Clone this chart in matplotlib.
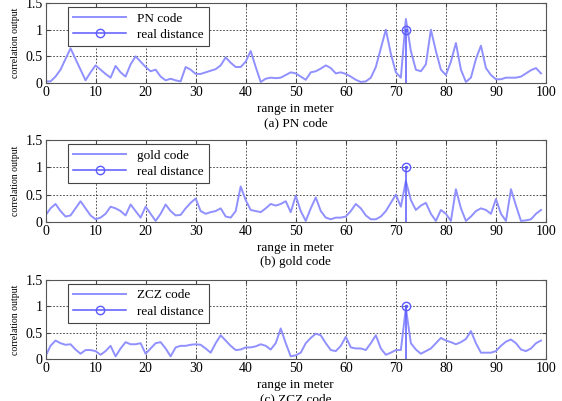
import matplotlib
matplotlib.use('Agg')
import matplotlib.pyplot as plt
import numpy as np

plt.rcParams['font.family'] = ['Liberation Serif', 'DejaVu Serif']

range_m = np.arange(100)
real_distance = 72

pn_code = [0.03, 0.03, 0.12, 0.25, 0.45, 0.65, 0.45, 0.25, 0.05, 0.20,
           0.33, 0.25, 0.17, 0.10, 0.32, 0.20, 0.12, 0.35, 0.50, 0.40,
           0.30, 0.22, 0.25, 0.12, 0.05, 0.08, 0.05, 0.03, 0.30, 0.25,
           0.17, 0.17, 0.20, 0.23, 0.26, 0.33, 0.48, 0.38, 0.30, 0.30,
           0.40, 0.60, 0.30, 0.02, 0.08, 0.10, 0.09, 0.10, 0.15, 0.20,
           0.18, 0.12, 0.06, 0.20, 0.22, 0.27, 0.33, 0.28, 0.18, 0.20,
           0.17, 0.12, 0.06, 0.02, 0.03, 0.10, 0.30, 0.65, 1.00, 0.55,
           0.20, 0.10, 1.20, 0.60, 0.25, 0.22, 0.35, 1.00, 0.60, 0.25,
           0.15, 0.40, 0.75, 0.25, 0.02, 0.10, 0.45, 0.70, 0.28, 0.15,
           0.07, 0.07, 0.10, 0.10, 0.10, 0.12, 0.18, 0.24, 0.28, 0.18]

gold_code = [0.12, 0.25, 0.33, 0.20, 0.10, 0.12, 0.25, 0.38, 0.25, 0.12,
             0.05, 0.08, 0.15, 0.28, 0.25, 0.20, 0.12, 0.32, 0.20, 0.08,
             0.28, 0.15, 0.02, 0.15, 0.32, 0.20, 0.12, 0.13, 0.25, 0.35,
             0.43, 0.20, 0.15, 0.18, 0.20, 0.25, 0.10, 0.08, 0.20, 0.65,
             0.40, 0.22, 0.20, 0.18, 0.25, 0.33, 0.30, 0.33, 0.38, 0.18,
             0.48, 0.20, 0.02, 0.25, 0.45, 0.20, 0.08, 0.05, 0.08, 0.08,
             0.10, 0.20, 0.33, 0.25, 0.12, 0.05, 0.05, 0.10, 0.20, 0.35,
             0.50, 0.28, 0.75, 0.40, 0.22, 0.30, 0.35, 0.15, 0.02, 0.22,
             0.15, 0.02, 0.60, 0.25, 0.02, 0.10, 0.20, 0.25, 0.22, 0.15,
             0.42, 0.15, 0.02, 0.60, 0.30, 0.02, 0.03, 0.05, 0.15, 0.22]

zcz_code = [0.05, 0.25, 0.35, 0.30, 0.27, 0.28, 0.18, 0.10, 0.17, 0.17,
            0.15, 0.08, 0.15, 0.25, 0.05, 0.20, 0.32, 0.28, 0.28, 0.30,
            0.10, 0.20, 0.30, 0.32, 0.20, 0.05, 0.22, 0.25, 0.25, 0.27,
            0.28, 0.27, 0.20, 0.12, 0.30, 0.45, 0.35, 0.25, 0.17, 0.18,
            0.22, 0.22, 0.24, 0.28, 0.25, 0.18, 0.30, 0.58, 0.30, 0.05,
            0.07, 0.12, 0.30, 0.40, 0.48, 0.45, 0.30, 0.17, 0.15, 0.25,
            0.42, 0.22, 0.20, 0.20, 0.17, 0.30, 0.45, 0.20, 0.08, 0.12,
            0.17, 0.17, 0.97, 0.30, 0.18, 0.10, 0.15, 0.20, 0.30, 0.40,
            0.35, 0.32, 0.28, 0.32, 0.38, 0.53, 0.30, 0.12, 0.12, 0.12,
            0.15, 0.25, 0.33, 0.37, 0.30, 0.18, 0.15, 0.20, 0.30, 0.35]

series = [pn_code, gold_code, zcz_code]
names = ['PN code', 'gold code', 'ZCZ code']
captions = ['(a) PN code', '(b) gold code', '(c) ZCZ code']

rows = [(3, 83), (140, 222), (280, 359)]
W, H = 562, 401
left_px, right_px = 45.5, 546

fig = plt.figure(figsize=(W / 100, H / 100), dpi=100, facecolor='white')

for vals, name, cap, (top, bot) in zip(series, names, captions, rows):
    ax = fig.add_axes([left_px / W, 1 - bot / H, (right_px - left_px) / W, (bot - top) / H])
    ax.plot(range_m, vals, color='#9090ff', lw=1.4, label=name)
    ax.plot([real_distance, real_distance], [0, 1], color='#5a5aff', lw=1.1,
            marker='o', markevery=[1], ms=6, mfc='none', mec='#5a5aff',
            label='real distance')
    ax.plot([real_distance], [1], marker='.', ms=3, color='#5a5aff')

    ax.set_xlim(0, 100)
    ax.set_ylim(0, 1.5)
    ax.set_xticks(np.arange(0, 101, 10))
    ax.set_yticks([0, 0.5, 1, 1.5])
    ax.set_yticklabels(['0', '0.5', '1', '1.5'])
    ax.tick_params(direction='in', length=3, labelsize=10, color='#444',
                   top=True, right=True, pad=2)
    ax.grid(True, linestyle=(0, (2, 2)), color='#333333', lw=0.6)
    for s in ax.spines.values():
        s.set_color('#555555')
        s.set_linewidth(0.8)
    ax.set_ylabel('correlation output', fontsize=7, labelpad=4)

    leg = ax.legend(loc='upper left', bbox_to_anchor=(0.045, 0.95), borderaxespad=0,
                    fontsize=9.5, fancybox=False, framealpha=1, edgecolor='#444',
                    handlelength=4.0, borderpad=0.4, labelspacing=0.3)
    leg.get_frame().set_linewidth(0.8)

    xc = (left_px + right_px) / 2 / W
    fig.text(xc, 1 - (bot + 26) / H, 'range in meter', ha='center', va='center', fontsize=9.5)
    fig.text(xc, 1 - (bot + 40) / H, cap, ha='center', va='center', fontsize=9.5)

fig.savefig('out.png', dpi=100, facecolor='white')
